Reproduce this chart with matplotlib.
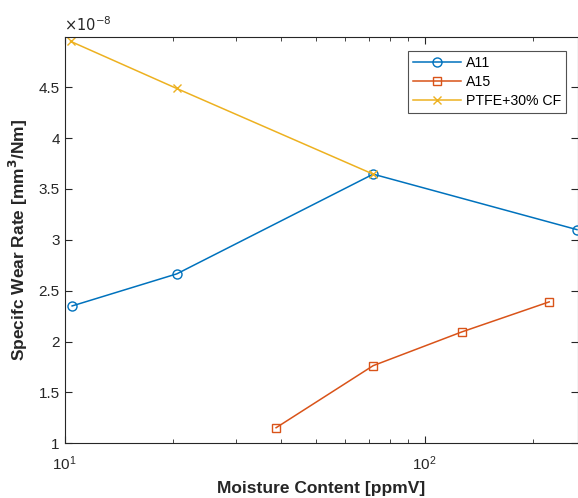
import numpy as np
import matplotlib.pyplot as plt
from matplotlib.ticker import FormatStrFormatter

plt.rcParams['font.family'] = ['Liberation Sans', 'DejaVu Sans']

# Data (wear rate in units of 1e-8 mm^3/Nm)
a11_x = [10.5, 20.5, 72, 265]
a11_y = [2.35, 2.665, 3.645, 3.10]
a15_x = [38.7, 72, 127, 222]
a15_y = [1.153, 1.763, 2.095, 2.39]
ptfe_x = [10.4, 20.5, 72]
ptfe_y = [4.95, 4.487, 3.645]
y_ticks = [1, 1.5, 2, 2.5, 3, 3.5, 4, 4.5]

ink = '#262626'

fig = plt.figure(figsize=(5.78, 4.98), dpi=100)
ax = fig.add_axes([64.5 / 578, 1 - 443.3 / 498, 513 / 578, 406 / 498])

ax.plot(a11_x, a11_y, color='#0072BD', marker='o', markersize=6.5,
        markerfacecolor='none', linewidth=1.1, label='A11')
ax.plot(a15_x, a15_y, color='#D95319', marker='s', markersize=6,
        markerfacecolor='none', linewidth=1.1, label='A15')
ax.plot(ptfe_x, ptfe_y, color='#EDB120', marker='x', markersize=6,
        linewidth=1.1, label='PTFE+30% CF')

ax.set_xscale('log')
ax.set_xlim(10, 266)
ax.set_ylim(1, 4.99)
ax.set_yticks(y_ticks)
ax.yaxis.set_major_formatter(FormatStrFormatter('%g'))

ax.tick_params(which='both', direction='in', colors=ink, labelsize=11,
               top=True, right=True)
ax.tick_params(which='major', length=5)
ax.tick_params(which='minor', length=3)
ax.tick_params(axis='x', pad=8)
for s in ax.spines.values():
    s.set_color(ink)
    s.set_linewidth(0.8)

ax.text(0, 1.008, r'$\times10^{-8}$', transform=ax.transAxes,
        fontsize=10.5, color=ink, va='bottom', ha='left')

ax.set_xlabel('Moisture Content [ppmV]', fontsize=12.5, fontweight='bold',
              color=ink, labelpad=6)
ax.set_ylabel('Specifc Wear Rate [mm$^\\mathbf{3}$/Nm]', fontsize=12.5,
              fontweight='bold', color=ink, labelpad=6)

leg = ax.legend(loc='upper right',
                bbox_to_anchor=(1 - 11.5 / 513, 1 - 13.7 / 406),
                fontsize=10.2, frameon=True, fancybox=False, borderpad=0.35,
                handlelength=3.4, handletextpad=0.35, labelspacing=0.35,
                borderaxespad=0)
leg.get_frame().set_edgecolor(ink)
leg.get_frame().set_linewidth(0.8)

fig.savefig('out.png', dpi=100)
